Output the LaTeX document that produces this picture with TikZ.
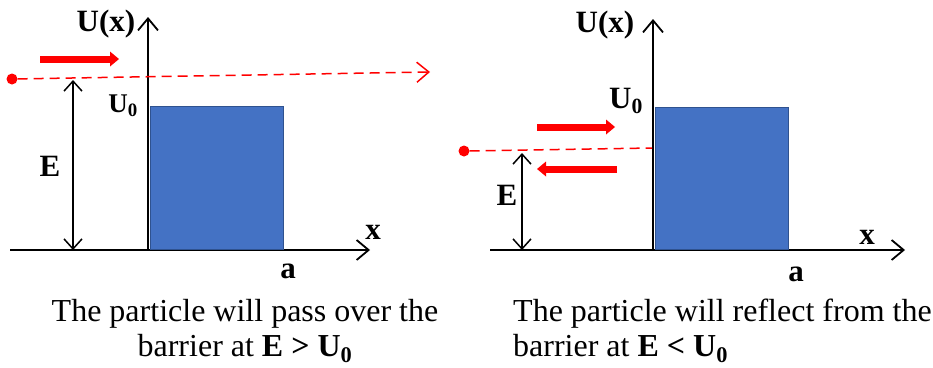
\documentclass[tikz,border=0pt]{standalone}
\usepackage{fontspec}
\setmainfont{Liberation Serif}
\usepackage{xcolor}
\usetikzlibrary{positioning,arrows.meta}
\definecolor{barblue}{HTML}{4472C4}
\definecolor{baredge}{HTML}{2F528F}

\begin{document}
\begin{tikzpicture}[x=1pt, y=-1pt,
  axisline/.style={-{Straight Barb[length=12pt, width=20pt]}, line width=1.8pt},
  barrier/.style={draw=baredge, line width=1.2pt, fill=barblue,
                  inner sep=0pt, anchor=south west},
  track/.style={dashed, dash pattern=on 10pt off 6pt, red, line width=1.5pt},
  movearr/.style={-{Triangle[length=9pt, width=15pt, line width=0pt]},
               red, line width=7pt},
  earr/.style={{Straight Barb[length=10pt, width=18pt]}-{Straight Barb[length=10pt, width=18pt]},
               line width=1.5pt},
  reddot/.style={circle, fill=red, inner sep=0pt, minimum size=11pt},
  lbl/.style={font=\fontsize{31}{34}\selectfont\bfseries, inner sep=0pt},
  captxt/.style={font=\fontsize{32}{35}\selectfont, inner sep=0pt}
]
  \useasboundingbox (0,0) rectangle (933,367);

  % left panel: E > U0
  \coordinate (Lx0) at (10,250);
  \coordinate (Lx1) at (370,250);
  \coordinate (Ly0) at (148,250);
  \coordinate (Ly1) at (148,17);
  \draw[axisline] (Lx0) -- (Lx1);
  \draw[axisline] (Ly0) -- (Ly1);
  \node[barrier, minimum width=133pt, minimum height=143pt] (Lbar) at (150,250) {};

  \node[reddot] (Ldot) at (12,79) {};
  \coordinate (Lend) at (430,72);
  \draw[track, -{Straight Barb[length=12pt, width=20pt]}] (Ldot) -- (Lend);
  \coordinate (Lm0) at (40,59);
  \coordinate (Lm1) at (119,59);
  \draw[movearr] (Lm0) -- (Lm1);

  \coordinate (Le0) at (73,80);
  \coordinate (Le1) at (73,250);
  \draw[earr] (Le0) -- (Le1);

  \node[lbl] (LU) at (106,24) {U(x)};
  \node[lbl, font=\fontsize{27}{30}\selectfont\bfseries] (LU0) at (123,106) {U\textsubscript{0}};
  \node[lbl] (LE) at (50,166) {E};
  \node[lbl] (Lxl) at (373,232) {x};
  \node[lbl] (La) at (288,271) {a};
  \node[captxt, align=center] (Lcap) at (245,331)
    {The particle will pass over the\\barrier at \textbf{E > U\textsubscript{0}}};

  % right panel: E < U0
  \coordinate (Rx0) at (490,250);
  \coordinate (Rx1) at (905,250);
  \coordinate (Ry0) at (653,250);
  \coordinate (Ry1) at (653,19);
  \draw[axisline] (Rx0) -- (Rx1);
  \draw[axisline] (Ry0) -- (Ry1);
  \node[barrier, minimum width=133pt, minimum height=142pt] (Rbar) at (655,250) {};

  \node[reddot] (Rdot) at (464,151) {};
  \coordinate (Rend) at (652,148);
  \draw[track] (Rdot) -- (Rend);
  \coordinate (Rm0) at (537,127);
  \coordinate (Rm1) at (615,127);
  \draw[movearr] (Rm0) -- (Rm1);
  \coordinate (Rr0) at (617,169);
  \coordinate (Rr1) at (537,169);
  \draw[movearr] (Rr0) -- (Rr1);

  \coordinate (Re0) at (522,153);
  \coordinate (Re1) at (522,250);
  \draw[earr] (Re0) -- (Re1);

  \node[lbl] (RU) at (605,25) {U(x)};
  \node[lbl] (RU0) at (626,101) {U\textsubscript{0}};
  \node[lbl] (RE) at (507,195) {E};
  \node[lbl] (Rxl) at (867,237) {x};
  \node[lbl] (Ra) at (796,274) {a};
  \node[captxt, align=left, anchor=west] (Rcap) at (513,331)
    {The particle will reflect from the\\barrier at \textbf{E < U\textsubscript{0}}};
\end{tikzpicture}
\end{document}
